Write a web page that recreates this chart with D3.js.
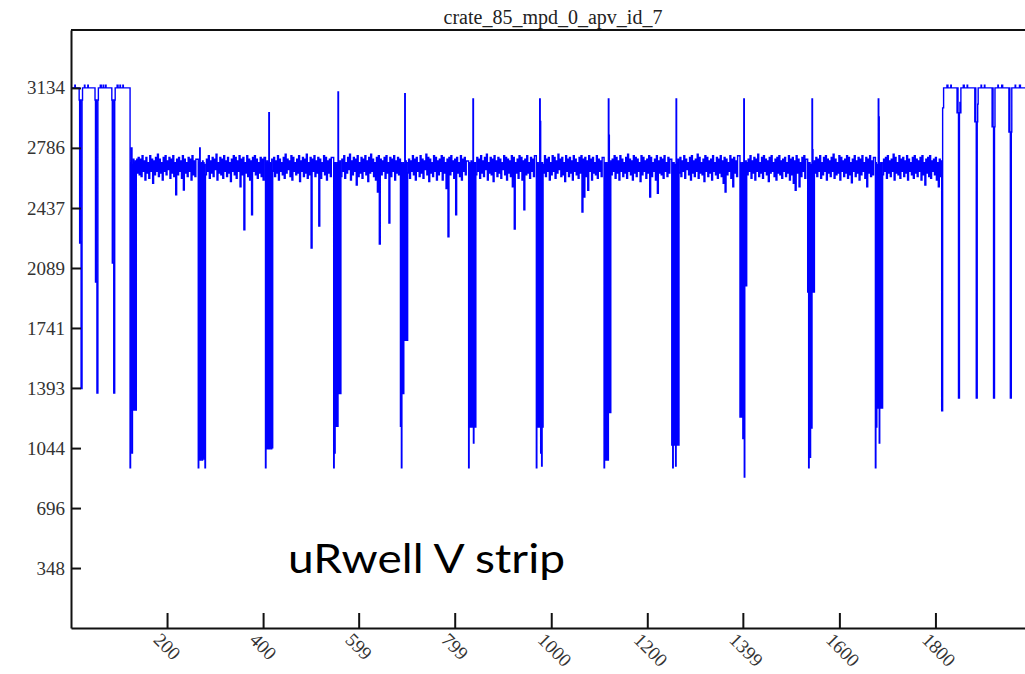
<!DOCTYPE html>
<html>

<head>
	<meta charset="utf-8">
	<title>crate_85_mpd_0_apv_id_7</title>
	<style>
		body { margin: 0; background: #fff; }
		svg { display: block; }
	</style>
</head>

<body>
	<svg class="svg" width="1025" height="674"></svg>

	<script src="https://d3js.org/d3.v7.min.js"></script>
	<script>
		var chartTitle = "crate_85_mpd_0_apv_id_7";
		var noteText = "uRwell V strip";

		//tick labels as printed on the axes
		var xTicks = [200, 400, 599, 799, 1000, 1200, 1399, 1600, 1800];
		var yTicks = [348, 696, 1044, 1393, 1741, 2089, 2437, 2786, 3134];

		//idle sync pulses before the first frame [sample, adc]
		var leadPulses = [
			[0, 3134], [8, 3150], [9, 3134], [17, 3064], [18, 2234], [19, 3064], [20, 2240], [21, 1390], [22, 1390],
			[23, 3064], [24, 3134], [28, 3150], [29, 3134], [35, 3150], [36, 3134],
			[50, 3064], [51, 2008], [52, 3064], [53, 2010], [54, 1364], [55, 1364], [56, 3064], [57, 3134],
			[61, 3150], [63, 3134], [67, 3150], [68, 3134], [72, 3150], [73, 3134],
			[85, 3064], [86, 2118], [87, 3064], [88, 2120], [89, 1364], [90, 1364], [91, 3064], [92, 3134],
			[96, 3150], [98, 3134], [102, 3150], [103, 3134], [108, 3150], [109, 3134]
		];

		//first sample of every APV frame
		var frameStart = [123, 265, 405, 547, 686, 828, 969, 1110, 1251, 1393, 1534, 1675];

		//header samples of every frame (one per sample)
		var frameHeader = [
			[930, 2700, 1265, 2786, 1015, 2690, 1265, 2720, 1265, 2700, 1265, 2710, 1265, 2700, 2720],
			[930, 2700, 980, 2786, 975, 2690, 985, 2700, 975, 2710, 990, 2700, 980, 2690, 930],
			[930, 2700, 1040, 2710, 1045, 2700, 1040, 2990, 1040, 2700, 1050, 2690, 1040, 2720, 1045],
			[930, 2700, 1015, 2700, 1170, 2690, 1170, 2700, 1170, 3110, 1360, 2700, 1360, 2710, 1360],
			[1170, 2700, 930, 2690, 1360, 2700, 1360, 2690, 1670, 3100, 1670, 2710, 1670, 2700, 1670],
			[930, 2700, 1166, 2690, 1166, 2710, 1166, 2700, 1166, 3070, 1073, 2700, 1166, 2700, 1166],
			[930, 2700, 1166, 2690, 1166, 2700, 1166, 3070, 2940, 1015, 2700, 940, 2700, 1166, 2690],
			[930, 2700, 975, 2690, 975, 2700, 975, 2690, 975, 3070, 2860, 1250, 2700, 1250, 2710],
			[1062, 2700, 930, 1062, 2700, 1062, 2690, 1062, 940, 3070, 1062, 2700, 1062, 2720, 1062],
			[1224, 2700, 1224, 2690, 1224, 2700, 1100, 1240, 3070, 876, 2700, 1985, 2710, 1985, 2700],
			[1950, 2700, 930, 1160, 2700, 990, 1160, 2690, 1160, 3070, 2775, 1950, 2700, 1950, 2710],
			[930, 2700, 1166, 1277, 2690, 1277, 3070, 2966, 1073, 2700, 1277, 2690, 1277, 2700, 1277]
		];

		//strip pedestals after the header, read every 4 samples:
		//lower edge of the noise band (with the dips) and upper edge
		var stripStep = 4;
		var stripLow = [
			[2640, 2630, 2620, 2650, 2600, 2640, 2610, 2650, 2580, 2630, 2650, 2620, 2640, 2600, 2650, 2630, 2660, 2610, 2640, 2620, 2513, 2630, 2650, 2610, 2542, 2640, 2620, 2650, 2600, 2630, 2620],
			[2630, 2650, 2610, 2640, 2620, 2660, 2600, 2640, 2630, 2610, 2650, 2620, 2640, 2590, 2650, 2630, 2610, 2650, 2560, 2630, 2310, 2640, 2620, 2600, 2397, 2650, 2630, 2610, 2640, 2620, 2600],
			[2650, 2620, 2640, 2600, 2650, 2630, 2610, 2640, 2660, 2620, 2600, 2650, 2630, 2640, 2590, 2650, 2620, 2640, 2610, 2630, 2205, 2650, 2620, 2640, 2333, 2610, 2650, 2630, 2600, 2640, 2620],
			[2620, 2650, 2610, 2640, 2660, 2600, 2630, 2650, 2570, 2620, 2640, 2610, 2650, 2630, 2590, 2640, 2650, 2620, 2600, 2530, 2228, 2630, 2650, 2610, 2640, 2350, 2620, 2650, 2600, 2640, 2630],
			[2640, 2610, 2650, 2630, 2600, 2650, 2620, 2640, 2610, 2660, 2630, 2590, 2640, 2620, 2650, 2600, 2630, 2650, 2600, 2640, 2550, 2270, 2630, 2650, 2610, 2397, 2640, 2620, 2600, 2650, 2630],
			[2630, 2650, 2610, 2640, 2620, 2660, 2600, 2640, 2630, 2590, 2650, 2620, 2640, 2610, 2660, 2630, 2600, 2640, 2620, 2560, 2315, 2640, 2610, 2650, 2600, 2426, 2630, 2640, 2610, 2650, 2620],
			[2640, 2620, 2650, 2600, 2630, 2650, 2610, 2640, 2660, 2620, 2630, 2590, 2650, 2620, 2640, 2600, 2650, 2630, 2610, 2640, 2414, 2500, 2620, 2540, 2650, 2600, 2640, 2630, 2610, 2650, 2620],
			[2630, 2650, 2610, 2640, 2600, 2650, 2620, 2640, 2610, 2650, 2630, 2600, 2640, 2620, 2650, 2590, 2630, 2650, 2610, 2640, 2500, 2620, 2650, 2600, 2523, 2640, 2630, 2610, 2650, 2620, 2640],
			[2640, 2620, 2650, 2610, 2660, 2630, 2600, 2640, 2620, 2650, 2610, 2640, 2630, 2590, 2650, 2620, 2640, 2600, 2650, 2630, 2610, 2640, 2620, 2580, 2530, 2630, 2650, 2610, 2560, 2640, 2620],
			[2630, 2650, 2610, 2640, 2600, 2650, 2620, 2640, 2610, 2650, 2630, 2590, 2640, 2650, 2620, 2600, 2640, 2630, 2610, 2650, 2620, 2640, 2600, 2630, 2580, 2540, 2640, 2560, 2620, 2650, 2610],
			[2640, 2620, 2650, 2610, 2630, 2650, 2600, 2640, 2620, 2650, 2610, 2630, 2640, 2600, 2650, 2620, 2640, 2610, 2630, 2583, 2650, 2620, 2640, 2600, 2630, 2650, 2610, 2560, 2640, 2620, 2630],
			[2630, 2650, 2610, 2640, 2620, 2650, 2600, 2640, 2630, 2610, 2650, 2620, 2640, 2600, 2650, 2630, 2610, 2640, 2620, 2650, 2600, 2630, 2570, 2640, 2620, 2610, 2650, 2630, 2600, 2560, 2620]
		];
		var stripHigh = [
			[2730, 2720, 2740, 2710, 2730, 2700, 2740, 2720, 2710, 2730, 2750, 2720, 2700, 2730, 2740, 2710, 2730, 2720, 2740, 2700, 2720, 2730, 2710, 2740, 2720, 2700, 2730, 2720, 2740, 2710, 2720],
			[2720, 2740, 2710, 2730, 2720, 2750, 2700, 2730, 2720, 2740, 2710, 2730, 2700, 2720, 2740, 2730, 2710, 2740, 2720, 2730, 2700, 2740, 2720, 2710, 2730, 2740, 2720, 2700, 2730, 2720, 2730],
			[2730, 2710, 2740, 2720, 2700, 2730, 2750, 2720, 2710, 2740, 2730, 2700, 2720, 2740, 2710, 2730, 2720, 2750, 2700, 2730, 2720, 2740, 2710, 2730, 2720, 2700, 2740, 2730, 2710, 2720, 2730],
			[2720, 2740, 2700, 2730, 2750, 2710, 2730, 2720, 2740, 2700, 2730, 2720, 2740, 2710, 2730, 2750, 2720, 2700, 2730, 2740, 2720, 2710, 2730, 2740, 2700, 2730, 2720, 2740, 2710, 2730, 2720],
			[2720, 2710, 2740, 2720, 2730, 2700, 2740, 2720, 2710, 2750, 2730, 2720, 2700, 2740, 2730, 2710, 2720, 2740, 2730, 2700, 2720, 2730, 2740, 2710, 2720, 2730, 2700, 2740, 2720, 2730, 2710],
			[2730, 2720, 2740, 2710, 2730, 2750, 2700, 2730, 2720, 2740, 2710, 2730, 2720, 2700, 2740, 2730, 2720, 2710, 2740, 2730, 2700, 2720, 2740, 2730, 2710, 2720, 2740, 2700, 2730, 2720, 2740],
			[2740, 2720, 2730, 2700, 2740, 2730, 2710, 2750, 2720, 2730, 2700, 2740, 2720, 2730, 2710, 2740, 2720, 2700, 2730, 2740, 2720, 2730, 2710, 2740, 2720, 2730, 2700, 2740, 2720, 2710, 2730],
			[2720, 2740, 2730, 2710, 2740, 2720, 2700, 2730, 2750, 2720, 2710, 2740, 2730, 2720, 2700, 2740, 2730, 2710, 2720, 2740, 2730, 2700, 2720, 2740, 2710, 2730, 2720, 2740, 2700, 2730, 2720],
			[2730, 2710, 2740, 2720, 2700, 2730, 2740, 2710, 2720, 2750, 2730, 2700, 2720, 2740, 2730, 2710, 2720, 2740, 2700, 2730, 2720, 2740, 2710, 2730, 2720, 2700, 2740, 2720, 2730, 2710, 2740],
			[2720, 2740, 2710, 2730, 2720, 2750, 2700, 2730, 2740, 2720, 2710, 2730, 2740, 2700, 2720, 2730, 2740, 2710, 2720, 2730, 2700, 2740, 2720, 2730, 2710, 2740, 2720, 2700, 2730, 2740, 2720],
			[2730, 2720, 2740, 2700, 2730, 2740, 2720, 2710, 2730, 2750, 2720, 2700, 2740, 2730, 2710, 2720, 2740, 2730, 2700, 2720, 2740, 2710, 2730, 2720, 2740, 2700, 2730, 2720, 2740, 2710, 2730],
			[2720, 2730, 2740, 2710, 2720, 2750, 2730, 2700, 2740, 2720, 2730, 2710, 2740, 2720, 2700, 2730, 2740, 2720, 2710, 2730, 2740, 2700, 2720, 2730, 2740, 2710, 2720, 2730, 2700, 2720, 2710]
		];

		//sync pulses after the last frame [sample, adc]
		var trailPulses = [
			[1813, 1260], [1815, 3018], [1817, 3134], [1824, 3150], [1826, 3134], [1832, 3150], [1833, 3134],
			[1845, 2990], [1846, 3134], [1847, 2990], [1848, 1335], [1849, 1335], [1850, 2990], [1851, 3050], [1852, 2990], [1853, 3134],
			[1858, 3150], [1860, 3134], [1866, 3150], [1867, 3134],
			[1882, 2937], [1883, 3134], [1884, 2937], [1885, 1335], [1886, 1335], [1887, 2937], [1888, 3040], [1889, 3134],
			[1895, 3150], [1896, 3134], [1902, 3150], [1903, 3134],
			[1918, 2908], [1919, 3134], [1920, 2908], [1921, 1335], [1922, 1335], [1923, 2908], [1924, 3134],
			[1930, 3150], [1931, 3134], [1938, 3150], [1940, 3134],
			[1953, 2878], [1954, 3134], [1955, 2878], [1956, 1335], [1957, 1335], [1958, 2878], [1959, 3134],
			[1966, 3150], [1967, 3134], [1975, 3150], [1977, 3134], [1999, 3134]
		];

		var svg = d3.select("svg");

		//plot box (right edge falls just outside the picture)
		var margin = { top: 30, left: 71, bottom: 628 };
		var plotRight = 1031;

		var x = d3.scaleLinear()
			.domain([0, 1999])
			.range([margin.left, plotRight]);

		var y = d3.scaleLinear()
			.domain([0, 3470])
			.range([margin.bottom, margin.top]);

		//build the sample sequence
		var points = leadPulses.slice();
		frameStart.forEach(function(s, k) {
			var h = frameHeader[k].length;
			frameHeader[k].forEach(function(v, j) {
				points.push([s + j, v]);
			});
			stripLow[k].forEach(function(v, j) {
				points.push([s + h + j * stripStep, v]);
				points.push([s + h + j * stripStep + stripStep / 2, stripHigh[k][j]]);
			});
		});
		points = points.concat(trailPulses);

		var line = d3.line()
			.curve(d3.curveStepAfter)
			.x(function(d) { return x(d[0]); })
			.y(function(d) { return y(d[1]); });

		svg.append("path")
			.datum(points)
			.attr("fill", "none")
			.attr("stroke", "#0000ff")
			.attr("stroke-width", 1.4)
			.attr("d", line);

		//frame top
		svg.append("line")
			.attr("x1", margin.left)
			.attr("x2", plotRight)
			.attr("y1", margin.top)
			.attr("y2", margin.top)
			.attr("stroke", "#111")
			.attr("stroke-width", 2);

		var xAxis = svg.append("g")
			.attr("class", "x axis")
			.attr("transform", "translate(0," + margin.bottom + ")")
			.call(d3.axisBottom(x).tickValues(xTicks).tickSize(-15).tickSizeOuter(0).tickFormat(d3.format("d")));

		xAxis.selectAll("text")
			.attr("x", 0)
			.attr("y", 0)
			.attr("dy", 0)
			.style("text-anchor", "start")
			.attr("transform", "translate(-15,13) rotate(45)");

		var yAxis = svg.append("g")
			.attr("class", "y axis")
			.attr("transform", "translate(" + margin.left + ",0)")
			.call(d3.axisLeft(y).tickValues(yTicks).tickSize(-10).tickSizeOuter(0).tickPadding(6).tickFormat(d3.format("d")));

		svg.selectAll(".axis path, .axis line")
			.attr("stroke", "#111")
			.attr("stroke-width", 2);

		svg.selectAll(".axis text")
			.attr("fill", "#333")
			.style("font-family", "'Liberation Serif', serif")
			.style("font-size", "19px");

		//title
		svg.append("text")
			.attr("x", 553)
			.attr("y", 24)
			.attr("text-anchor", "middle")
			.attr("fill", "#222")
			.style("font-family", "'Liberation Serif', serif")
			.style("font-size", "20px")
			.text(chartTitle);

		//annotation
		svg.append("text")
			.attr("x", 288)
			.attr("y", 573)
			.attr("textLength", 277)
			.attr("lengthAdjust", "spacingAndGlyphs")
			.attr("fill", "#000")
			.style("font-family", "Lato, 'Open Sans', sans-serif")
			.style("font-size", "40px")
			.text(noteText);
	</script>
</body>

</html>
